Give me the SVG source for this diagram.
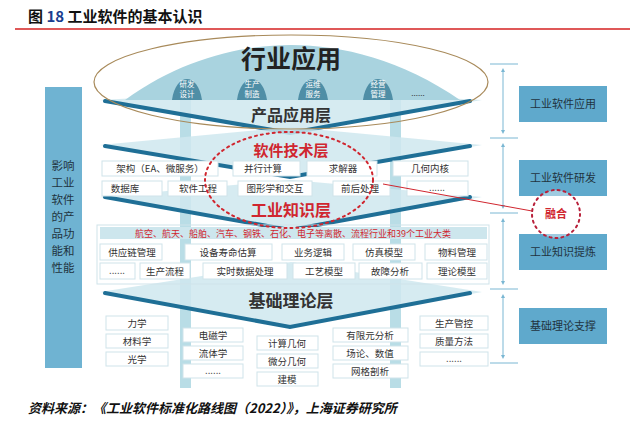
<svg xmlns="http://www.w3.org/2000/svg" width="641" height="426" viewBox="0 0 641 426">
<style>
text{font-family:"Noto Sans CJK SC","Liberation Sans",sans-serif;text-anchor:middle;fill:#333}
.bx{fill:#fff;stroke:#cfe3ea;stroke-width:1}
.t9{font-size:9.5px}
.bt{font-size:7.5px;fill:#fff}
.rb{fill:#5fa9cc}
.rt{font-size:11px;fill:#1f3340}
.ln{stroke:#1f6f96;stroke-width:4;fill:none;stroke-linecap:round}
.pl{fill:#cfe7ee;opacity:.85}
.sep{stroke:#7ab7d3;stroke-width:1}
.ar{stroke:#7ab7d3;stroke-width:1;marker-start:url(#a);marker-end:url(#a)}
</style>
<defs><marker id="a" viewBox="0 0 6 6" refX="3" refY="3" markerWidth="4" markerHeight="4" orient="auto-start-reverse"><path d="M0,0L6,3L0,6z" fill="#7ab7d3"/></marker></defs>
<rect width="641" height="426" fill="#fff"/>
<text x="28" y="22" style="text-anchor:start;font-size:15px;font-weight:bold;fill:#111">图 <tspan fill="#1a3d8f">18</tspan> 工业软件的基本认识</text>
<line x1="15" y1="29" x2="630" y2="29" stroke="#d42020" stroke-width="1.5"/>
<g id="pillars"><rect x="180" y="100" width="11" height="288" fill="#b9dde6"/><rect x="390" y="100" width="11" height="288" fill="#b9dde6"/></g>
<g id="layers">
<path class="pl" d="M100,100 L291,90 L482,100 L291,133Z"/>
<path class="ln" d="M105,101 L290,133 L470,101"/>
<text x="291" y="121" style="font-size:16px;font-weight:bold">产品应用层</text>
<path class="pl" d="M100,145 L291,127 L482,145 L291,178Z"/>
<path class="ln" d="M105,146 L290,177 L470,146"/>
<text x="291" y="156" style="font-size:15px;font-weight:bold;fill:#d0262f">软件技术层</text>
<path class="pl" d="M100,197 L291,180 L482,197 L291,230Z"/>
<path class="ln" d="M105,197 L290,230 L470,197"/>
<text x="291" y="216" style="font-size:16px;font-weight:bold;fill:#d0262f">工业知识层</text>
<path class="pl" d="M100,292 L291,262 L482,292 L291,327Z"/>
<path class="ln" d="M105,293 L290,327 L470,293"/>
<text x="291" y="307" style="font-size:17px;font-weight:bold">基础理论层</text>
</g>
<g id="dome">
<path d="M125,100 C180,60 240,45 291,45 C342,45 402,60 460,100Z" fill="#a9d3df"/>
<path d="M172,100 C176,72 198,72 202,100Z M237,100 C241,72 263,72 267,100Z M298,100 C302,72 324,72 328,100Z M363,100 C367,72 389,72 393,100Z" fill="#4f8ea6"/>
<text class="bt" x="187" y="87">研发</text><text class="bt" x="187" y="97">设计</text>
<text class="bt" x="252" y="87">生产</text><text class="bt" x="252" y="97">制造</text>
<text class="bt" x="313" y="87">运维</text><text class="bt" x="313" y="97">服务</text>
<text class="bt" x="378" y="87">经营</text><text class="bt" x="378" y="97">管理</text>
<text x="418" y="96" style="font-size:8px">......</text>
<text x="291" y="68" style="font-size:25px;font-weight:bold;fill:#222">行业应用</text>
</g>
<g id="tech">
<rect class="bx" x="102" y="161" width="116" height="15"/><text class="t9" x="160" y="172">架构（EA、微服务）</text>
<rect class="bx" x="233" y="161" width="67" height="15"/><text class="t9" x="263" y="172">并行计算</text>
<rect class="bx" x="307" y="161" width="70" height="15"/><text class="t9" x="343" y="172">求解器</text>
<rect class="bx" x="393" y="161" width="75" height="15"/><text class="t9" x="430" y="172">几何内核</text>
<rect class="bx" x="102" y="181" width="60" height="15"/><text class="t9" x="125" y="192">数据库</text>
<rect class="bx" x="168" y="181" width="59" height="15"/><text class="t9" x="198" y="192">软件工程</text>
<rect class="bx" x="238" y="181" width="74" height="15"/><text class="t9" x="275" y="192">图形学和交互</text>
<rect class="bx" x="333" y="181" width="57" height="15"/><text class="t9" x="360" y="192">前后处理</text>
<rect class="bx" x="407" y="181" width="61" height="15"/><text class="t9" x="437" y="191">......</text>
</g>
<g id="knowledge">
<rect x="97" y="225" width="392" height="59" fill="none" stroke="#cfe3ea"/>
<rect x="100" y="227" width="387" height="12" fill="#cde6ed"/>
<text x="293" y="237" style="font-size:9px;fill:#d0262f">航空、航天、船舶、汽车、钢铁、石化、电子等离散、流程行业和39个工业大类</text>
<rect class="bx" x="100" y="244" width="62" height="16"/><text class="t9" x="132" y="256">供应链管理</text>
<rect class="bx" x="185" y="244" width="87" height="16"/><text class="t9" x="228" y="256">设备寿命估算</text>
<rect class="bx" x="282" y="244" width="62" height="16"/><text class="t9" x="313" y="256">业务逻辑</text>
<rect class="bx" x="353" y="244" width="62" height="16"/><text class="t9" x="384" y="256">仿真模型</text>
<rect class="bx" x="425" y="244" width="62" height="16"/><text class="t9" x="457" y="256">物料管理</text>
<rect class="bx" x="100" y="263" width="35" height="16"/><text class="t9" x="117" y="274">......</text>
<rect class="bx" x="140" y="263" width="50" height="16"/><text class="t9" x="165" y="275">生产流程</text>
<rect class="bx" x="203" y="263" width="84" height="16"/><text class="t9" x="245" y="275">实时数据处理</text>
<rect class="bx" x="293" y="263" width="62" height="16"/><text class="t9" x="324" y="275">工艺模型</text>
<rect class="bx" x="359" y="263" width="63" height="16"/><text class="t9" x="390" y="275">故障分析</text>
<rect class="bx" x="427" y="263" width="60" height="16"/><text class="t9" x="457" y="275">理论模型</text>
</g>
<g id="base">
<rect class="bx" x="106" y="316" width="62" height="14"/><text class="t9" x="137" y="327">力学</text>
<rect class="bx" x="106" y="334" width="62" height="14"/><text class="t9" x="137" y="345">材料学</text>
<rect class="bx" x="106" y="352" width="62" height="14"/><text class="t9" x="137" y="363">光学</text>
<rect class="bx" x="183" y="328" width="60" height="14"/><text class="t9" x="213" y="339">电磁学</text>
<rect class="bx" x="183" y="346" width="60" height="14"/><text class="t9" x="213" y="357">流体学</text>
<rect class="bx" x="183" y="364" width="60" height="14"/><text class="t9" x="213" y="374">......</text>
<rect class="bx" x="257" y="336" width="61" height="14"/><text class="t9" x="287" y="347">计算几何</text>
<rect class="bx" x="257" y="354" width="61" height="14"/><text class="t9" x="287" y="365">微分几何</text>
<rect class="bx" x="257" y="372" width="61" height="14"/><text class="t9" x="287" y="383">建模</text>
<rect class="bx" x="333" y="328" width="75" height="14"/><text class="t9" x="370" y="339">有限元分析</text>
<rect class="bx" x="333" y="346" width="75" height="14"/><text class="t9" x="370" y="357">场论、数值</text>
<rect class="bx" x="333" y="364" width="75" height="14"/><text class="t9" x="370" y="375">网格剖析</text>
<rect class="bx" x="420" y="316" width="68" height="14"/><text class="t9" x="454" y="327">生产管控</text>
<rect class="bx" x="420" y="334" width="68" height="14"/><text class="t9" x="454" y="345">质量方法</text>
<rect class="bx" x="420" y="352" width="68" height="14"/><text class="t9" x="454" y="362">......</text>
</g>
<g id="ellipses">
<ellipse cx="291" cy="82" rx="197" ry="47" fill="none" stroke="#a88a5a" stroke-width="1.2"/>
<ellipse cx="289" cy="180" rx="84" ry="48" fill="none" stroke="#d0262f" stroke-width="2" stroke-dasharray="2 4" stroke-linecap="round"/>
</g>
<g id="left"><rect x="45" y="87" width="37" height="281" fill="#6fb3d2"/>
<text x="63" y="170" style="font-size:11.5px;fill:#1f3340">影响</text><text x="63" y="187" style="font-size:11.5px;fill:#1f3340">工业</text><text x="63" y="204" style="font-size:11.5px;fill:#1f3340">软件</text><text x="63" y="221" style="font-size:11.5px;fill:#1f3340">的产</text><text x="63" y="238" style="font-size:11.5px;fill:#1f3340">品功</text><text x="63" y="255" style="font-size:11.5px;fill:#1f3340">能和</text><text x="63" y="272" style="font-size:11.5px;fill:#1f3340">性能</text></g>
<g id="connectors">
<line class="sep" x1="490" y1="64" x2="518" y2="64"/><line class="sep" x1="490" y1="138" x2="518" y2="138"/><line class="sep" x1="490" y1="213" x2="518" y2="213"/><line class="sep" x1="490" y1="289" x2="518" y2="289"/><line class="sep" x1="490" y1="363" x2="518" y2="363"/>
<line class="ar" x1="503" y1="70" x2="503" y2="132"/><line class="ar" x1="503" y1="145" x2="503" y2="207"/><line class="ar" x1="503" y1="220" x2="503" y2="283"/><line class="ar" x1="503" y1="296" x2="503" y2="357"/>
<line x1="383" y1="184" x2="532" y2="211" stroke="#d0262f" stroke-width="1"/>
</g>
<g id="right">
<rect class="rb" x="519" y="86" width="88" height="36"/><text class="rt" x="563" y="108">工业软件应用</text>
<rect class="rb" x="519" y="160" width="88" height="36"/><text class="rt" x="563" y="182">工业软件研发</text>
<rect class="rb" x="519" y="234" width="88" height="36"/><text class="rt" x="563" y="256">工业知识提炼</text>
<rect class="rb" x="519" y="308" width="88" height="36"/><text class="rt" x="563" y="330">基础理论支撑</text>
</g>
<g id="fusion"><circle cx="556" cy="214" r="24" fill="#fff" fill-opacity=".4" stroke="#b8203a" stroke-width="2" stroke-dasharray="2 4" stroke-linecap="round"/>
<text x="556" y="218" style="font-size:11px;font-weight:bold;fill:#d0262f">融合</text></g>
<text x="28" y="413" style="text-anchor:start;font-size:13px;font-weight:bold;font-style:italic;fill:#111">资料来源：《工业软件标准化路线图（2022）》，上海证券研究所</text>
</svg>
